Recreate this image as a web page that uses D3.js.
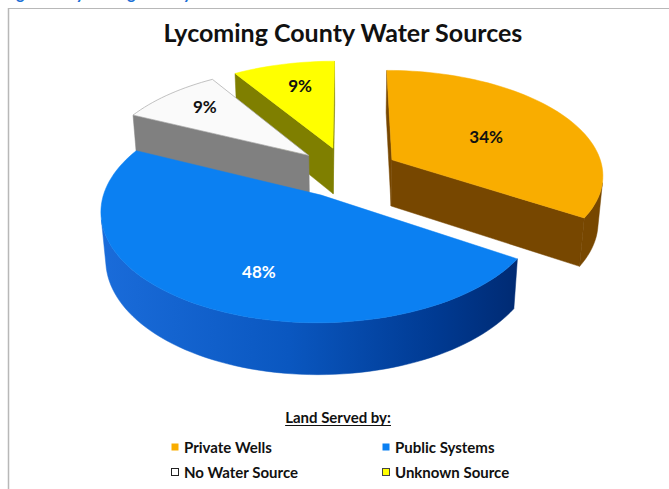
<!DOCTYPE html>
<html>
<head>
<meta charset="utf-8">
<script src="https://cdn.jsdelivr.net/npm/d3@7"></script>
<style>
  html, body { margin: 0; padding: 0; background: #fff; overflow: hidden; }
  svg { display: block; }
</style>
</head>
<body>
<svg id="chart" width="669" height="489"></svg>
<script>
// ---- data ----
const categories = ["Private Wells", "Public Systems", "No Water Source", "Unknown Source"];
const shares = [34, 48, 9, 9];
const pctLabels = ["34%", "48%", "9%", "9%"];
const chartTitle = "Lycoming County Water Sources";
const captionText = "Figure 6: Lycoming County Water Sources";
const legendTitle = "Land Served by:";

// ---- styles ----
const topColors  = ["#F9AD00", "#0B80F2", "#FAFAFA", "#FFFF00"];
const sideColors = ["#774700", "url(#blueSide)", "#808080", "#7F7F00"];
const legendColors = ["#F9AD00", "#0B80F2", "#FFFFFF", "#FFFF00"];
const legendStroke = ["none", "none", "#222", "#444"];
const labelColors = ["#111", "#FFFFFF", "#111", "#111"];
const labelRadius = [0.53, 0.62, 0.74, 0.7];
const labelNudge = [[2, 2], [10, 12], [2, -3], [3, -2]];

// ---- 3D view of the pie (pie radius = 1) ----
const view = {
  cx: 347, cy: 172, scale: 211.6,
  tilt: 29.5 * Math.PI / 180,
  dist: 6.62, depth: 0.258, explode: 0.246
};
const sinT = Math.sin(view.tilt), cosT = Math.cos(view.tilt);
const camera = [0, -view.dist * cosT, view.dist * sinT];

function project(u, v, z) {
  const f = view.dist / (view.dist + v * cosT - z * sinT);
  return [view.cx + view.scale * f * u, view.cy - view.scale * f * (v * sinT + z * cosT)];
}

const svg = d3.select("#chart");
const defs = svg.append("defs");
const grad = defs.append("linearGradient").attr("id", "blueSide")
  .attr("gradientUnits", "userSpaceOnUse")
  .attr("x1", 100).attr("y1", 0).attr("x2", 520).attr("y2", 0);
[[0, "#1A6CDA"], [0.45, "#0A57C0"], [0.8, "#003A92"], [1, "#002A72"]]
  .forEach(([o, c]) => grad.append("stop").attr("offset", o).attr("stop-color", c));

// frame of the chart area
svg.append("line").attr("x1", 8.5).attr("y1", 8).attr("x2", 8.5).attr("y2", 489)
  .attr("stroke", "#B8B8B8").attr("stroke-width", 1.5);
svg.append("line").attr("x1", 8).attr("y1", 8.5).attr("x2", 669).attr("y2", 8.5)
  .attr("stroke", "#B8B8B8").attr("stroke-width", 1.2);

// caption above the frame (only its lower part shows)
svg.append("text").attr("x", 4).attr("y", -1)
  .attr("font-family", "Lato, sans-serif").attr("font-weight", 700).attr("font-style", "italic")
  .attr("font-size", 17).attr("fill", "#1C6FD6").text(captionText);

// title
svg.append("text").attr("x", 343).attr("y", 42).attr("text-anchor", "middle")
  .attr("font-family", "Lato, sans-serif").attr("font-weight", 700)
  .attr("font-size", 25).attr("fill", "#111").text(chartTitle);

// ---- pie geometry ----
const pie = d3.pie().sort(null).startAngle(0).endAngle(2 * Math.PI);
const arcs = pie(shares);
const line = d3.line();

function facing(normal, p) {
  const d = [camera[0] - p[0], camera[1] - p[1], camera[2] - p[2]];
  return normal[0] * d[0] + normal[1] * d[1] + normal[2] * d[2] > 0;
}

const slices = arcs.map((a, i) => {
  const mid = (a.startAngle + a.endAngle) / 2;
  const ou = view.explode * Math.sin(mid), ov = view.explode * Math.cos(mid);
  return { i, a, mid, ou, ov };
}).sort((p, q) => q.ov - p.ov);   // back to front

const g = svg.append("g");
const steps = 90;

slices.forEach(s => {
  const { i, a, ou, ov } = s;
  const a0 = a.startAngle, a1 = a.endAngle;
  const pt = (th, r, z) => project(ou + r * Math.sin(th), ov + r * Math.cos(th), z);
  const zb = -view.depth;
  const n = Math.max(4, Math.ceil(steps * (a1 - a0) / Math.PI));
  const angles = d3.range(n + 1).map(k => a0 + (a1 - a0) * k / n);

  // start radial face
  if (facing([-Math.cos(a0), Math.sin(a0), 0], [ou, ov, 0])) {
    g.append("path").attr("d", line([pt(0, 0, 0), pt(a0, 1, 0), pt(a0, 1, zb), pt(0, 0, zb)]) + "Z")
      .attr("fill", sideColors[i]).attr("stroke", sideColors[i]).attr("stroke-width", 0.5);
  }
  // end radial face
  if (facing([Math.cos(a1), -Math.sin(a1), 0], [ou, ov, 0])) {
    g.append("path").attr("d", line([pt(0, 0, 0), pt(a1, 1, 0), pt(a1, 1, zb), pt(0, 0, zb)]) + "Z")
      .attr("fill", sideColors[i]).attr("stroke", sideColors[i]).attr("stroke-width", 0.5);
  }
  // outer curved side: draw visible runs
  const vis = angles.map(th => facing([Math.sin(th), Math.cos(th), 0],
    [ou + Math.sin(th), ov + Math.cos(th), zb / 2]));
  let run = [];
  const flush = () => {
    if (run.length > 1) {
      const topPts = run.map(th => pt(th, 1, 0));
      const botPts = run.slice().reverse().map(th => pt(th, 1, zb));
      g.append("path").attr("d", line(topPts.concat(botPts)) + "Z")
        .attr("fill", sideColors[i]).attr("stroke", sideColors[i]).attr("stroke-width", 0.5);
    }
    run = [];
  };
  angles.forEach((th, k) => { if (vis[k]) run.push(th); else flush(); });
  flush();

  // top face
  const topPts = [pt(0, 0, 0)].concat(angles.map(th => pt(th, 1, 0)));
  g.append("path").attr("d", line(topPts) + "Z")
    .attr("fill", topColors[i])
    .attr("stroke", i === 2 ? "#A8A8A8" : topColors[i])
    .attr("stroke-width", i === 2 ? 0.7 : 0.5);
});

// percentage labels on the top faces
slices.forEach(s => {
  const { i, mid, ou, ov } = s;
  const r = labelRadius[i];
  const p = project(ou + r * Math.sin(mid), ov + r * Math.cos(mid), 0);
  g.append("text").attr("x", p[0] + labelNudge[i][0]).attr("y", p[1] + labelNudge[i][1])
    .attr("text-anchor", "middle").attr("dominant-baseline", "central")
    .attr("font-family", "Lato, sans-serif").attr("font-weight", 700)
    .attr("font-size", 17).attr("fill", labelColors[i]).text(pctLabels[i]);
});

// ---- legend ----
const lg = svg.append("g").attr("font-family", "Lato, sans-serif").attr("font-weight", 700);
const lt = lg.append("text").attr("x", 338).attr("y", 423).attr("text-anchor", "middle")
  .attr("font-size", 15).attr("fill", "#111").text(legendTitle);
const bb = lt.node().getBBox();
lg.append("line").attr("x1", bb.x).attr("x2", bb.x + bb.width)
  .attr("y1", 425.5).attr("y2", 425.5).attr("stroke", "#111").attr("stroke-width", 1);

const colX = [171, 382];
const rowY = [447, 472];
categories.forEach((c, i) => {
  const x = colX[i % 2], y = rowY[Math.floor(i / 2)];
  lg.append("rect").attr("x", x + 0.5).attr("y", y - 3.5).attr("width", 7).attr("height", 7)
    .attr("fill", legendColors[i]).attr("stroke", legendStroke[i]).attr("stroke-width", 1);
  lg.append("text").attr("x", x + 13).attr("y", y).attr("dominant-baseline", "central")
    .attr("font-size", 15).attr("fill", "#111").text(c);
});
</script>
</body>
</html>
